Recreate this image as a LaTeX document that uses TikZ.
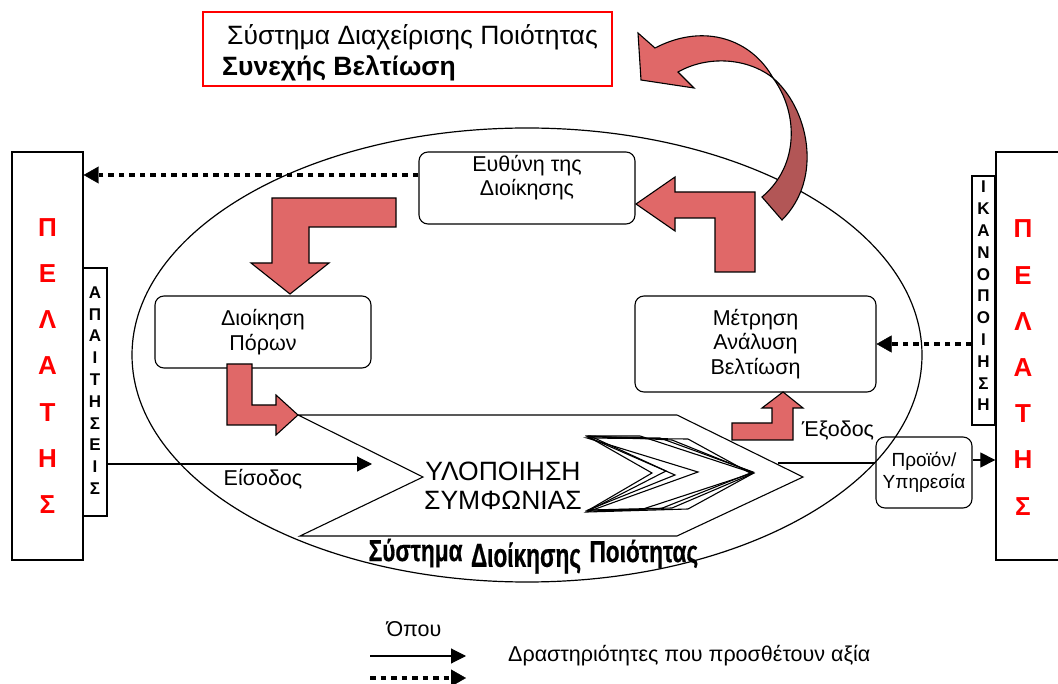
\documentclass[tikz,border=0pt]{standalone}
\usepackage{fontspec}
\setmainfont{Liberation Sans}
\newfontfamily\archfont{Liberation Sans}[FakeStretch=0.78,FakeBold=0.6,UprightFont={* Bold}]
\usetikzlibrary{arrows.meta}
\definecolor{blockred}{RGB}{224,104,104}
\definecolor{blockdark}{RGB}{178,86,86}
\definecolor{letterred}{RGB}{255,0,0}
\begin{document}
\begin{tikzpicture}[x=1pt,y=-1pt,
  box/.style={draw, fill=white, line width=1.1pt, rounded corners=9pt, inner sep=0pt},
  plainbox/.style={draw, fill=white, line width=1.3pt, inner sep=0pt},
  boxtext/.style={align=center, font=\fontsize{21.5}{24.5}\selectfont, inner sep=0pt},
  labeltext/.style={inner sep=0pt, font=\fontsize{21.5}{24.5}\selectfont},
  blockarrow/.style={fill=blockred, draw=black, line width=1.1pt, line join=miter},
  flow/.style={line width=1.1pt, -{Triangle[length=15pt,width=15pt]}},
  feedback/.style={line width=4.5pt, dash pattern=on 5.5pt off 5pt,
    -{Triangle[length=15pt,width=17pt,line width=0.4pt]}},
  customer/.style={align=center, text=letterred, font=\fontsize{26}{46.2}\selectfont\bfseries, inner sep=0pt},
  vletters/.style={align=center, font=\fontsize{17}{21.8}\selectfont\bfseries, inner sep=0pt},
  chevron/.style={line width=1.1pt, line join=miter},
  captionword/.style={inner sep=0pt, font=\archfont\fontsize{29}{29}\selectfont},
]
\useasboundingbox (0,0) rectangle (1058,684);

% quality management system boundary
\draw[line width=1.2pt] (527,355) ellipse [x radius=395pt, y radius=227pt];

% title box
\node[draw=red, line width=1.5pt, minimum width=409pt, minimum height=74pt, inner sep=0pt] (title) at (407.5,49) {};
\node[anchor=base west, inner sep=0pt, font=\fontsize{26.5}{30}\selectfont] (titleA) at (227,45) {Σύστημα Διαχείρισης Ποιότητας};
\node[anchor=base west, inner sep=0pt, font=\fontsize{26.5}{30}\selectfont\bfseries] (titleB) at (222,75.5) {Συνεχής Βελτίωση};

% customers and their requirements / satisfaction
\node[plainbox, minimum width=71pt, minimum height=408pt] (custL) at (47.5,356) {};
\node[customer] (custLtext) at (47.5,366) {Π\\Ε\\Λ\\Α\\Τ\\Η\\Σ};
\node[plainbox, minimum width=24pt, minimum height=248pt] (req) at (95,392) {};
\node[vletters] (reqtext) at (95,390.5) {Α\\Π\\Α\\Ι\\Τ\\Η\\Σ\\Ε\\Ι\\Σ};

\node[plainbox, minimum width=74pt, minimum height=408pt] (custR) at (1033,356) {};
\node[customer] (custRtext) at (1023,367.5) {Π\\Ε\\Λ\\Α\\Τ\\Η\\Σ};
\node[plainbox, minimum width=23pt, minimum height=249pt] (sat) at (983.5,300.5) {};
\node[vletters] (sattext) at (983.5,296) {Ι\\Κ\\Α\\Ν\\Ο\\Π\\Ο\\Ι\\Η\\Σ\\Η};

% process boxes
\node[box, minimum width=216pt, minimum height=72pt] (resp) at (527,188) {};
\node[boxtext] (resptext) at (527,177.5) {Ευθύνη της\\Διοίκησης};
\node[box, minimum width=216pt, minimum height=72pt, boxtext] (res) at (263,332) {Διοίκηση\\Πόρων};
\node[box, minimum width=241pt, minimum height=96pt, boxtext] (meas) at (755.5,344) {Μέτρηση\\Ανάλυση\\Βελτίωση};
\node[box, fill=none, minimum width=96pt, minimum height=71pt, align=center, inner sep=0pt,
  font=\fontsize{19}{22}\selectfont] (prod) at (924,472.5) {Προϊόν/\\Υπηρεσία};

% product realisation
\draw[line width=1.1pt, line join=miter] (298,415) -- (677,415) -- (803,477) -- (677,536) -- (300,536) -- (423,477) -- cycle;
\node[align=center, inner sep=0pt, font=\fontsize{26.5}{28.5}\selectfont] (real) at (503,486) {ΥΛΟΠΟΙΗΣΗ\\ΣΥΜΦΩΝΙΑΣ};
\draw[chevron] (587,436) -- (640,436) -- (753,473) -- (640,510) -- (587,511) -- (652,473) -- cycle;
\draw[chevron] (588,437) -- (660,438) -- (753,472) -- (660,509) -- (588,510) -- (675,475) -- cycle;
\draw[chevron] (590,436) -- (672,440) -- (754,473) -- (672,508) -- (590,510) -- (666,471) -- cycle;
\draw[chevron] (587,438) -- (688,439) -- (752,474) -- (688,509) -- (587,512) -- (698,472) -- cycle;

% input / output connectors
\coordinate (inEnd) at (372,464);
\draw[flow] (req.east |- inEnd) -- (inEnd);
\node[labeltext] (inLabel) at (263,479) {Είσοδος};
\coordinate (hexOut) at (778,463);
\draw[line width=1.1pt] (hexOut) -- (prod.west |- hexOut);
\draw[flow] (prod.east |- 0,460) -- (custR.west |- 0,460);
\node[labeltext] (outLabel) at (838,431) {Έξοδος};

% feedback
\draw[feedback] (resp.west |- 0,175) -- (custL.east |- 0,175);
\draw[feedback] (sat.west |- 0,344) -- (meas.east |- 0,344);

% block arrows of the improvement cycle
\draw[blockarrow] (715,272) -- (755,272) -- (755,192) -- (675,192) -- (675,177) -- (636,204) -- (675,231) -- (675,218) -- (715,218) -- cycle;
\draw[blockarrow] (396,198) -- (396,227) -- (309,227) -- (309,263) -- (329,263) -- (290,294) -- (251,263) -- (272,263) -- (272,198) -- cycle;
\draw[blockarrow] (227,364) -- (252,364) -- (252,405) -- (276,405) -- (276,395) -- (298,415) -- (276,435) -- (276,425) -- (227,425) -- cycle;
\draw[blockarrow] (732,423) -- (772,423) -- (772,408) -- (762,408) -- (783,392) -- (803,408) -- (793,408) -- (793,440) -- (732,440) -- cycle;

% curved continual improvement arrow
\draw[blockarrow] (638,33) -- (655,48) .. controls (705,22) and (752,40) .. (773,78)
  .. controls (748,58) and (708,55) .. (678,72) -- (694,88) -- (641,80) -- cycle;
\draw[blockarrow, fill=blockdark] (773,78) .. controls (808,108) and (824,178) .. (782,220)
  -- (762,197) .. controls (800,165) and (798,112) .. (773,78) -- cycle;

% system caption under the realisation shape, sagging in the middle
\node[captionword] (capB) at (526,558) {\scalebox{1}[1.15]{Διοίκησης}};
\path (capB.west) ++(-8,-5) node[captionword, anchor=east] (capA) {\scalebox{1}[1.05]{Σύστημα}};
\path (capB.east) ++(8,-4) node[captionword, anchor=west] (capC) {\scalebox{1}[1.05]{Ποιότητας}};

% legend
\node[labeltext] (legTitle) at (414,629) {Όπου};
\coordinate (legA1) at (370,656);
\coordinate (legA2) at (466,656);
\draw[flow] (legA1) -- (legA2);
\node[anchor=west, labeltext] (legText) at (508,656) {Δραστηριότητες που προσθέτουν αξία};
\coordinate (legB1) at (370,678);
\coordinate (legB2) at (466,678);
\draw[feedback] (legB1) -- (legB2);
\end{tikzpicture}
\end{document}
